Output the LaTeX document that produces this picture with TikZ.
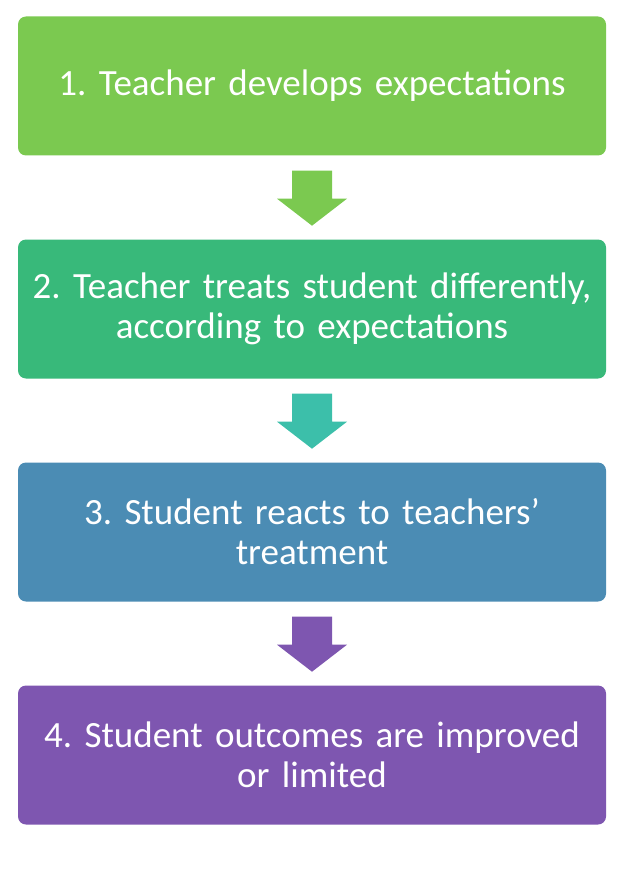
\documentclass[tikz,border=0pt]{standalone}
\usepackage{fontspec}
\setmainfont{Carlito}
\usetikzlibrary{calc}
\definecolor{stepgreen}{RGB}{123,201,80}
\definecolor{stepteal}{RGB}{56,185,122}
\definecolor{stepblue}{RGB}{75,140,180}
\definecolor{steppurple}{RGB}{126,86,176}
\definecolor{arrowteal}{RGB}{60,191,170}
\frenchspacing
\begin{document}
\begin{tikzpicture}[x=1pt,y=-1pt,
	stepbox/.style={rounded corners=8pt,minimum width=588pt,minimum height=139pt,text width=586pt,align=center,text=white,inner sep=0pt,font=\fontsize{37}{40}\selectfont}]
	\useasboundingbox (0,0) rectangle (618,869);
	\node[stepbox,fill=stepgreen] (one) at (312,86) {1. Teacher develops expectations};
	\node[stepbox,fill=stepteal] (two) at (312,309) {2. Teacher treats student differently,\\according to expectations};
	\node[stepbox,fill=stepblue] (three) at (312,532) {3. Student reacts to teachers'\\treatment};
	\node[stepbox,fill=steppurple] (four) at (312,755) {4. Student outcomes are improved\\or limited};
	% block arrows between the steps
	\foreach \a/\c in {one/stepgreen,two/arrowteal,three/steppurple}
		\fill[\c] ($(\a.south)+(-20,15)$) -- ($(\a.south)+(20,15)$) -- ($(\a.south)+(20,43)$) -- ($(\a.south)+(35,43)$) -- ($(\a.south)+(0,70)$) -- ($(\a.south)+(-35,43)$) -- ($(\a.south)+(-20,43)$) -- cycle;
\end{tikzpicture}
\end{document}
